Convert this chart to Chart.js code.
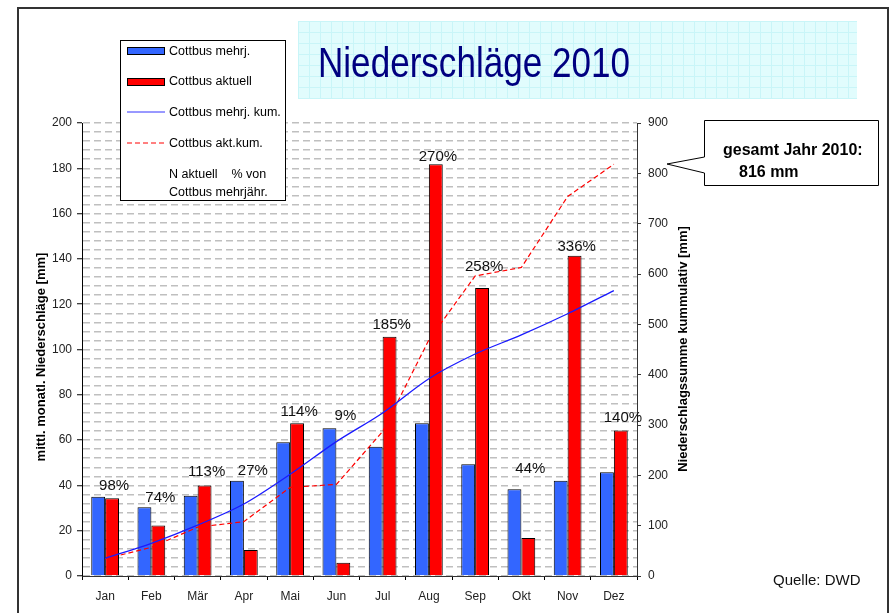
<!DOCTYPE html>
<html>
<head>
<meta charset="utf-8">
<title>Niederschläge 2010</title>
<script src="https://cdn.jsdelivr.net/npm/chart.js@4.4.1/dist/chart.umd.min.js"></script>
<style>
  body { margin: 0; background: #fff; }
  canvas { display: block; }
</style>
</head>
<body>
<canvas id="regen" width="892" height="613"></canvas>
<script>
var monate = ['Jan', 'Feb', 'Mär', 'Apr', 'Mai', 'Jun', 'Jul', 'Aug', 'Sep', 'Okt', 'Nov', 'Dez'];

// monatliche Niederschläge [mm]
var mehrj   = [35, 30.3, 35.4, 42, 59, 65.2, 57.1, 67.4, 49.3, 38.3, 42.1, 45.8];
var aktuell = [34.3, 22.3, 40, 11.5, 67.4, 5.9, 105.6, 181.8, 127.1, 16.8, 141.4, 64.2];

// kumulativ [mm], rechte Achse
var mehrjKum   = [35, 65, 101, 143, 202, 267, 324, 392, 441, 479, 521, 567];
var aktuellKum = [34, 57, 97, 108, 176, 182, 287, 469, 596, 613, 754, 818];

// Serie "N aktuell % von Cottbus mehrjähr." (nur Beschriftung)
var prozentNiveau = [40, 34.5, 46, 46.5, 72.5, 70.5, 111, 185, 136.5, 47.5, 145.5, 70];
var prozent = [98, 74, 113, 27, 114, 9, 185, 270, 258, 44, 336, 140];

var linksTicks = [0, 200, 20];
var rechtsTicks = [0, 900, 100];

var titel = 'Niederschläge 2010';
var gesamt = ['gesamt Jahr 2010:', '816 mm'];
var quelle = 'Quelle: DWD';

var fam = '"Liberation Sans", Arial, sans-serif';

var deko = {
  id: 'deko',
  beforeDraw: function(chart){
    var ctx = chart.ctx;
    ctx.save();
    // Titelkasten
    ctx.fillStyle = '#e1fcfd';
    ctx.fillRect(298, 21, 559, 78);
    ctx.strokeStyle = '#c9f5f8';
    ctx.lineWidth = 1;
    for (var x = 298.5; x < 857; x += 11) {
      ctx.beginPath(); ctx.moveTo(x, 21); ctx.lineTo(x, 99); ctx.stroke();
    }
    for (var y = 21.5; y < 99; y += 11) {
      ctx.beginPath(); ctx.moveTo(298, y); ctx.lineTo(857, y); ctx.stroke();
    }
    ctx.fillStyle = '#000080';
    ctx.font = '42px ' + fam;
    ctx.textBaseline = 'alphabetic';
    var w = ctx.measureText(titel).width;
    ctx.translate(318, 77);
    ctx.scale(312 / w, 1);
    ctx.fillText(titel, 0, 0);
    ctx.restore();
  },
  afterDatasetsDraw: function(chart){
    var ctx = chart.ctx;
    var meta = chart.getDatasetMeta(4);
    ctx.save();
    ctx.fillStyle = '#111';
    ctx.font = '15px ' + fam;
    ctx.textAlign = 'center';
    ctx.textBaseline = 'middle';
    for (var i = 0; i < meta.data.length; i++) {
      var p = meta.data[i];
      ctx.fillText(prozent[i] + '%', p.x + 9, p.y);
    }
    ctx.restore();
  },
  afterDraw: function(chart){
    var ctx = chart.ctx;
    ctx.save();

    // Achsentitel
    ctx.fillStyle = '#000';
    ctx.font = 'bold 13px ' + fam;
    ctx.textAlign = 'center';
    ctx.textBaseline = 'middle';
    ctx.save();
    ctx.translate(41, 357);
    ctx.rotate(-Math.PI / 2);
    ctx.fillText('mittl. monatl. Niederschläge [mm]', 0, 0);
    ctx.restore();
    ctx.save();
    ctx.translate(683, 349);
    ctx.rotate(-Math.PI / 2);
    ctx.fillText('Niederschlagssumme kummulativ [mm]', 0, 0);
    ctx.restore();

    // Legende
    ctx.fillStyle = '#fff';
    ctx.fillRect(120.5, 40.5, 165, 160);
    ctx.strokeStyle = '#000';
    ctx.lineWidth = 1;
    ctx.strokeRect(120.5, 40.5, 165, 160);

    ctx.fillStyle = '#3366ff';
    ctx.fillRect(127.5, 47.5, 37, 7);
    ctx.strokeRect(127.5, 47.5, 37, 7);
    ctx.fillStyle = '#ff0000';
    ctx.fillRect(127.5, 78.5, 37, 7);
    ctx.strokeRect(127.5, 78.5, 37, 7);

    ctx.strokeStyle = '#3333ff';
    ctx.beginPath(); ctx.moveTo(127, 112); ctx.lineTo(165, 112); ctx.stroke();
    ctx.strokeStyle = '#ff0000';
    ctx.setLineDash([5, 3]);
    ctx.beginPath(); ctx.moveTo(127, 143); ctx.lineTo(165, 143); ctx.stroke();
    ctx.setLineDash([]);

    ctx.fillStyle = '#000';
    ctx.font = '12.5px ' + fam;
    ctx.textAlign = 'left';
    ctx.fillText('Cottbus mehrj.', 169, 52);
    ctx.fillText('Cottbus aktuell', 169, 82);
    ctx.fillText('Cottbus mehrj. kum.', 169, 113);
    ctx.fillText('Cottbus akt.kum.', 169, 144);
    ctx.fillText('N aktuell    % von', 169, 175);
    ctx.fillText('Cottbus mehrjähr.', 169, 193);

    // Sprechblase
    ctx.fillStyle = '#fff';
    ctx.strokeStyle = '#000';
    ctx.beginPath();
    ctx.moveTo(704.5, 120.5);
    ctx.lineTo(878.5, 120.5);
    ctx.lineTo(878.5, 185.5);
    ctx.lineTo(704.5, 185.5);
    ctx.lineTo(704.5, 173);
    ctx.lineTo(667, 164);
    ctx.lineTo(704.5, 157);
    ctx.closePath();
    ctx.fill();
    ctx.stroke();
    ctx.fillStyle = '#000';
    ctx.font = 'bold 16px ' + fam;
    ctx.textBaseline = 'alphabetic';
    ctx.fillText(gesamt[0], 723, 155);
    ctx.fillText(gesamt[1], 739, 177);

    // Quelle
    ctx.font = '15px ' + fam;
    ctx.fillStyle = '#111';
    ctx.fillText(quelle, 773, 585);

    // Rahmen
    ctx.strokeStyle = '#333';
    ctx.lineWidth = 2;
    ctx.strokeRect(18, 8, 870, 620);
    ctx.restore();
  }
};

var ctx = document.getElementById('regen');
var chart = new Chart(ctx, {
  type: 'bar',
  data: {
    labels: monate,
    datasets: [
      {
        label: 'Cottbus mehrj. kum.',
        type: 'line',
        data: mehrjKum,
        yAxisID: 'y2',
        borderColor: '#1a1aff',
        borderWidth: 1.3,
        pointRadius: 0,
        tension: 0.3,
        fill: false,
        order: 1
      },
      {
        label: 'Cottbus akt.kum.',
        type: 'line',
        data: aktuellKum,
        yAxisID: 'y2',
        borderColor: '#ff0000',
        borderWidth: 1.2,
        borderDash: [5, 3],
        pointRadius: 0,
        tension: 0,
        fill: false,
        order: 1
      },
      {
        label: 'Cottbus mehrj.',
        data: mehrj,
        yAxisID: 'y',
        backgroundColor: '#3366ff',
        borderColor: '#000',
        borderWidth: 1,
        categoryPercentage: 0.6,
        barPercentage: 1,
        order: 2
      },
      {
        label: 'Cottbus aktuell',
        data: aktuell,
        yAxisID: 'y',
        backgroundColor: '#ff0000',
        borderColor: '#000',
        borderWidth: 1,
        categoryPercentage: 0.6,
        barPercentage: 1,
        order: 2
      },
      {
        label: 'N aktuell % von Cottbus mehrjähr.',
        type: 'line',
        data: prozentNiveau,
        yAxisID: 'y',
        showLine: false,
        pointRadius: 0,
        order: 0
      }
    ]
  },
  options: {
    responsive: false,
    animation: false,
    layout: { padding: { top: 123, left: 0, right: 0, bottom: 0 } },
    plugins: {
      legend: { display: false },
      tooltip: { enabled: false }
    },
    scales: {
      x: {
        offset: true,
        grid: { offset: true, drawOnChartArea: false, tickLength: 4, color: '#000' },
        border: { color: '#333' },
        ticks: { color: '#222', font: { family: fam, size: 12 }, padding: 9 },
        afterFit: function(s){ s.height = 37; }
      },
      y: {
        position: 'left',
        min: linksTicks[0],
        max: linksTicks[1],
        ticks: {
          stepSize: 4,
          autoSkip: false,
          color: '#222',
          font: { family: fam, size: 12 },
          padding: 5,
          callback: function(v){ return v % linksTicks[2] === 0 ? v : ''; }
        },
        grid: {
          color: '#bfbfbf',
          lineWidth: 1.5,
          tickLength: 5,
          tickWidth: 1,
          tickColor: function(c){ return (c.tick && c.tick.value % linksTicks[2] === 0) ? '#000' : 'rgba(0,0,0,0)'; }
        },
        border: { color: '#000', dash: [7, 4] },
        afterFit: function(s){ s.width = 82; }
      },
      y2: {
        position: 'right',
        min: rechtsTicks[0],
        max: rechtsTicks[1],
        ticks: { stepSize: rechtsTicks[2], color: '#222', font: { family: fam, size: 12 }, padding: 7 },
        grid: { drawOnChartArea: false, tickLength: 4, color: '#333' },
        border: { color: '#333' },
        afterFit: function(s){ s.width = 255; }
      }
    }
  },
  plugins: [deko]
});
</script>
</body>
</html>
